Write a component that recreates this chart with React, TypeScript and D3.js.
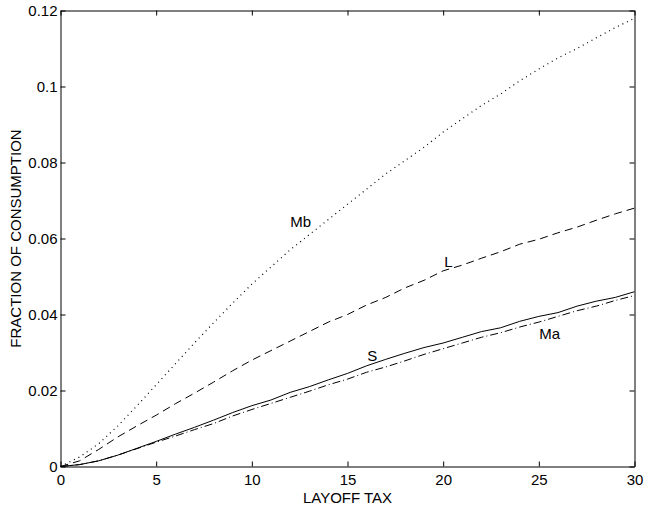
import React, { useEffect, useRef } from 'react';
import * as d3 from 'd3';

// layoff tax values (x)
const taxes = d3.range(0, 31);

// welfare cost, fraction of consumption, per model
const mbValues = [0, 0.0025, 0.006, 0.0107, 0.016, 0.0215, 0.027, 0.0325, 0.0378, 0.043, 0.048,
  0.0525, 0.057, 0.061, 0.065, 0.069, 0.073, 0.077, 0.0805, 0.084, 0.088,
  0.0915, 0.095, 0.098, 0.1015, 0.1046, 0.1075, 0.110, 0.1128, 0.1155, 0.118];
const lValues = [0, 0.0015, 0.0045, 0.0078, 0.0107, 0.0135, 0.0165, 0.0193, 0.0222, 0.0252, 0.028,
  0.0305, 0.033, 0.0355, 0.038, 0.040, 0.0425, 0.0445, 0.047, 0.049, 0.0515,
  0.053, 0.0548, 0.0565, 0.0585, 0.0598, 0.0615, 0.063, 0.0648, 0.0665, 0.068];
const sValues = [0, 0.0005, 0.0015, 0.003, 0.0048, 0.0066, 0.0085, 0.0103, 0.0122, 0.0142, 0.016,
  0.0175, 0.0195, 0.021, 0.0228, 0.0245, 0.0265, 0.0282, 0.0298, 0.0313, 0.0325,
  0.034, 0.0355, 0.0365, 0.0382, 0.0395, 0.0405, 0.0422, 0.0435, 0.0445, 0.046];
const maValues = [0, 0.0005, 0.0015, 0.003, 0.0047, 0.0064, 0.008, 0.0097, 0.0113, 0.0133, 0.015,
  0.0166, 0.0182, 0.0198, 0.0215, 0.023, 0.0248, 0.0262, 0.0278, 0.0295, 0.031,
  0.0325, 0.034, 0.0352, 0.0367, 0.038, 0.0395, 0.041, 0.0422, 0.0437, 0.045];

const xTicks = [0, 5, 10, 15, 20, 25, 30];
const yTicks = [0, 0.02, 0.04, 0.06, 0.08, 0.1, 0.12];

// series: name, values, dash pattern, label position (data coords)
const series = [
  { name: 'Mb', values: mbValues, dash: '1,4', label: [12.55, 0.0629] },
  { name: 'L', values: lValues, dash: '8,5', label: [20.28, 0.0525] },
  { name: 'S', values: sValues, dash: null, label: [16.3, 0.0278] },
  { name: 'Ma', values: maValues, dash: '8,3,1,3', label: [25.57, 0.0335] },
];

const FONT = '"Liberation Sans", Arial, sans-serif';

const App = () => {
  const svgRef = useRef<SVGSVGElement>(null);

  useEffect(() => {
    const svg = d3.select(svgRef.current);
    svg.selectAll('*').remove();

    const left = 60.5, right = 634.5, top = 10.5, bottom = 466.5;

    const x = d3.scaleLinear().domain([0, 30]).range([left, right]);
    const y = d3.scaleLinear().domain([0, 0.12]).range([bottom, top]);

    svg.append('rect')
      .attr('width', 646).attr('height', 512).attr('fill', '#fff');

    const fmt = (d) => (d === 0 ? '0' : String(+d.toFixed(2)));

    // bottom axis with labels
    const gx = svg.append('g')
      .attr('transform', `translate(0,${bottom})`)
      .call(d3.axisBottom(x).tickValues(xTicks).tickSizeInner(-5).tickSizeOuter(0).tickPadding(8).tickFormat(fmt));
    // left axis with labels
    const gy = svg.append('g')
      .attr('transform', `translate(${left},0)`)
      .call(d3.axisLeft(y).tickValues(yTicks).tickSizeInner(-5).tickSizeOuter(0).tickPadding(3).tickFormat(fmt));
    // top and right axes, ticks only
    const gt = svg.append('g')
      .attr('transform', `translate(0,${top})`)
      .call(d3.axisTop(x).tickValues(xTicks).tickSizeInner(-5).tickSizeOuter(0).tickFormat(() => ''));
    const gr = svg.append('g')
      .attr('transform', `translate(${right},0)`)
      .call(d3.axisRight(y).tickValues(yTicks).tickSizeInner(-5).tickSizeOuter(0).tickFormat(() => ''));

    [gx, gy, gt, gr].forEach(g => {
      g.select('.domain').attr('stroke', '#000').attr('stroke-width', 1);
      g.selectAll('.tick line').attr('stroke', '#000');
      g.selectAll('text')
        .attr('fill', '#000')
        .style('font-family', FONT)
        .style('font-size', '15px');
    });

    const line = d3.line<number>()
      .x((d, i) => x(taxes[i]))
      .y(d => y(d));

    series.forEach(s => {
      svg.append('path')
        .datum(s.values)
        .attr('d', line)
        .attr('fill', 'none')
        .attr('stroke', '#000')
        .attr('stroke-width', s.dash === '1,4' ? 1.2 : 1)
        .attr('stroke-dasharray', s.dash);

      svg.append('text')
        .attr('x', x(s.label[0]))
        .attr('y', y(s.label[1]))
        .attr('text-anchor', 'middle')
        .style('font-family', FONT)
        .style('font-size', '15px')
        .text(s.name);
    });

    svg.append('text')
      .attr('x', (left + right) / 2)
      .attr('y', 503)
      .attr('text-anchor', 'middle')
      .style('font-family', FONT)
      .style('font-size', '15px')
      .text('LAYOFF TAX');

    svg.append('text')
      .attr('transform', `translate(21,${(top + bottom) / 2}) rotate(-90)`)
      .attr('text-anchor', 'middle')
      .style('font-family', FONT)
      .style('font-size', '15px')
      .text('FRACTION OF CONSUMPTION');
  }, []);

  return (
    <svg ref={svgRef} width={646} height={512}
      style={{ position: 'absolute', left: 0, top: 0, display: 'block' }} />
  );
};

export default App;
